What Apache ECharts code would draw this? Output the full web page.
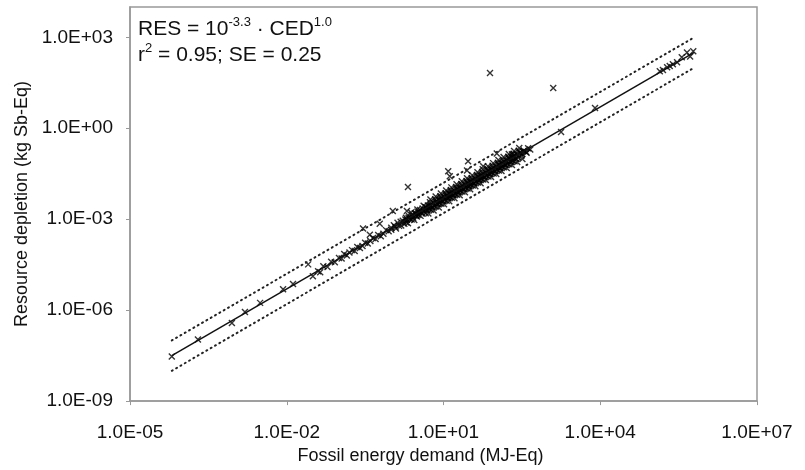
<!DOCTYPE html>
<html>
<head>
<meta charset="utf-8">
<script src="https://cdn.jsdelivr.net/npm/echarts@6/dist/echarts.min.js"></script>
<style>
  html, body { margin: 0; padding: 0; background: #fff; }
  #chart { width: 805px; height: 470px; }
</style>
</head>
<body>
<div id="chart"></div>
<script>
// all values are log10 pairs [log CED, log RES]
var lowPoints = [
  [-4.20, -7.53], [-3.70, -6.97], [-3.05, -6.42], [-2.80, -6.06], [-2.51, -5.76],
  [-2.07, -5.31], [-1.88, -5.14], [-1.50, -4.88], [-1.36, -4.75]
]
var bandPoints = [
  [-1.40, -4.72], [-1.30, -4.55], [-1.22, -4.58], [-1.15, -4.40], [-1.08, -4.42],
  [-1.00, -4.28], [-0.95, -4.30], [-0.90, -4.15], [-0.85, -4.20], [-0.80, -4.10],
  [-0.75, -4.02], [-0.70, -4.05], [-0.65, -3.92], [-0.60, -3.95], [-0.55, -3.88],
  [-0.50, -3.78], [-0.45, -3.80], [-0.40, -3.72], [-0.35, -3.62], [-0.30, -3.65],
  [-0.25, -3.52], [-0.20, -3.56], [-0.15, -3.48], [-0.10, -3.36], [-0.05, -3.40],
  [0.00, -3.28], [0.00, -3.35], [0.05, -3.20], [0.08, -3.26], [0.12, -3.12],
  [0.15, -3.22], [0.18, -3.08], [0.22, -3.05], [0.25, -3.15], [0.28, -2.95],
  [0.30, -3.02], [0.34, -2.90], [0.36, -3.00], [0.40, -2.85], [0.42, -2.95],
  [0.45, -2.80], [0.48, -2.88], [0.50, -2.75], [0.52, -2.86], [0.55, -2.70],
  [0.58, -2.78], [0.60, -2.65], [0.62, -2.74], [0.65, -2.60], [0.68, -2.70],
  [0.70, -2.55], [0.72, -2.64], [0.75, -2.52], [0.78, -2.60], [0.80, -2.45],
  [0.82, -2.56], [0.85, -2.42], [0.88, -2.50], [0.90, -2.35], [0.92, -2.46],
  [0.95, -2.30], [0.98, -2.40], [1.00, -2.25], [1.02, -2.36], [1.05, -2.22],
  [1.08, -2.30], [1.10, -2.14], [1.12, -2.26], [1.15, -2.10], [1.18, -2.20],
  [1.20, -2.05], [1.22, -2.16], [1.25, -2.00], [1.28, -2.12], [1.30, -1.96],
  [1.32, -2.06], [1.35, -1.90], [1.38, -2.00], [1.40, -1.85], [1.42, -1.96],
  [1.45, -1.80], [1.48, -1.92], [1.50, -1.76], [1.52, -1.86], [1.55, -1.70],
  [1.58, -1.82], [1.60, -1.66], [1.62, -1.76], [1.65, -1.60], [1.68, -1.72],
  [1.70, -1.56], [1.72, -1.66], [1.75, -1.50], [1.78, -1.62], [1.80, -1.46],
  [1.82, -1.56], [1.85, -1.40], [1.88, -1.52], [1.90, -1.36], [1.92, -1.46],
  [1.95, -1.30], [1.98, -1.42], [2.00, -1.26], [2.02, -1.36], [2.05, -1.20],
  [2.08, -1.32], [2.10, -1.16], [2.12, -1.26], [2.15, -1.10], [2.18, -1.20],
  [2.20, -1.06], [2.22, -1.16], [2.25, -1.00], [2.28, -1.10], [2.30, -0.96],
  [2.32, -1.06], [2.35, -0.90], [2.38, -1.00], [2.40, -0.86], [2.43, -0.95],
  [2.46, -0.80], [2.50, -0.86], [2.54, -0.74], [2.58, -0.78], [2.62, -0.66],
  [2.66, -0.70],
  // lower edge of the dense band
  [0.32, -3.13], [0.44, -3.03], [0.56, -2.89], [0.66, -2.80], [0.76, -2.69],
  [0.86, -2.58], [0.96, -2.49], [1.06, -2.39], [1.16, -2.29], [1.26, -2.19],
  [1.36, -2.09], [1.46, -1.99], [1.56, -1.89], [1.66, -1.79], [1.76, -1.69],
  [1.86, -1.59], [1.96, -1.49], [2.06, -1.39], [2.16, -1.29], [2.26, -1.19],
  [2.36, -1.09],
  [0.71, -2.81], [0.81, -2.71], [0.91, -2.61], [1.01, -2.51], [1.11, -2.41],
  [1.21, -2.31], [1.31, -2.21], [1.41, -2.11], [1.51, -2.01], [1.61, -1.91],
  [1.71, -1.81], [1.81, -1.71], [1.91, -1.61], [2.01, -1.51], [2.11, -1.41],
  [2.21, -1.31], [2.31, -1.21], [2.41, -1.11], [2.51, -1.01],
  // upper edge of the dense band
  [0.38, -2.78], [0.50, -2.68], [0.62, -2.56], [0.74, -2.44], [0.84, -2.34],
  [0.94, -2.24], [1.04, -2.14], [1.14, -2.04], [1.24, -1.94], [1.34, -1.84],
  [1.44, -1.74], [1.54, -1.64], [1.64, -1.54], [1.74, -1.44], [1.84, -1.34],
  [1.94, -1.24], [2.04, -1.14], [2.14, -1.04], [2.24, -0.94], [2.34, -0.84],
  [2.44, -0.74],
  [0.75, -2.35], [0.85, -2.25], [0.95, -2.15], [1.05, -2.05], [1.15, -1.95],
  [1.25, -1.85], [1.35, -1.75], [1.45, -1.65], [1.55, -1.55], [1.65, -1.45],
  [1.75, -1.35], [1.85, -1.25], [1.95, -1.15], [2.05, -1.05], [2.15, -0.95],
  [2.25, -0.85], [2.35, -0.75], [2.45, -0.65],
  // middle of the dense band
  [0.27, -3.01], [0.33, -2.95], [0.47, -2.81], [0.53, -2.75], [0.67, -2.61],
  [0.73, -2.55], [0.87, -2.41], [0.93, -2.35], [1.07, -2.21], [1.13, -2.15],
  [1.27, -2.01], [1.33, -1.95], [1.47, -1.81], [1.53, -1.75], [1.67, -1.61],
  [1.73, -1.55], [1.87, -1.41], [1.93, -1.35], [2.07, -1.21], [2.13, -1.15],
  [2.27, -1.01], [2.33, -0.95], [2.47, -0.81], [2.53, -0.75],
  [0.09, -3.31], [0.19, -3.21], [0.29, -3.11], [0.39, -3.01], [0.49, -2.91],
  [0.59, -2.81], [0.69, -2.71], [0.79, -2.61], [0.89, -2.51], [0.99, -2.41],
  [1.09, -2.31], [1.19, -2.21], [1.29, -2.11], [1.39, -2.01], [1.49, -1.91],
  [1.59, -1.81], [1.69, -1.71], [1.79, -1.61], [1.89, -1.51], [1.99, -1.41],
  [2.09, -1.31], [2.19, -1.21], [2.29, -1.11], [2.39, -1.01], [2.49, -0.91],
  [2.59, -0.81]
]
var upperPoints = [
  [-1.59, -4.49], [-0.54, -3.31], [-0.41, -3.51], [-0.22, -3.15], [0.03, -2.73],
  [0.30, -2.73], [0.32, -1.94], [1.09, -1.42], [1.12, -1.58], [1.47, -1.09],
  [1.45, -1.39], [1.76, -1.25], [2.02, -0.83], [2.31, -0.86], [1.89, 1.82],
  [3.10, 1.33]
]
var highPoints = [
  [3.25, -0.12], [3.90, 0.67], [5.14, 1.88], [5.20, 1.92], [5.28, 2.01],
  [5.33, 2.05], [5.39, 2.11], [5.47, 2.18], [5.56, 2.34], [5.66, 2.50],
  [5.72, 2.37], [5.78, 2.54]
]
// regression RES = 10^-3.3 * CED^1.0 and the dotted band around it
var fitLine = [[-4.2, -7.5], [5.8, 2.5]]
var fitUpper = [[-4.2, -7.0], [5.8, 3.0]]
var fitLower = [[-4.2, -8.0], [5.8, 2.0]]

function toReal(list) {
  return list.map(function (p) { return [Math.pow(10, p[0]), Math.pow(10, p[1])] })
}

function expLabel(v) {
  var e = Math.round(Math.log10(v))
  var s = String(Math.abs(e))
  if (s.length < 2) s = '0' + s
  return '1.0E' + (e < 0 ? '-' : '+') + s
}

var allPoints = toReal(lowPoints.concat(bandPoints, upperPoints, highPoints))
var fontName = 'Liberation Sans, Arial, sans-serif'

var chart = echarts.init(document.getElementById('chart'))
chart.setOption({
  animation: false,
  backgroundColor: '#fff',
  grid: {
    left: 130, top: 7, right: 48, bottom: 65,
    show: true, borderColor: '#999', borderWidth: 1.5
  },
  xAxis: {
    type: 'log', logBase: 10, min: 1e-5, max: 1e7, interval: 3,
    name: 'Fossil energy demand (MJ-Eq)',
    nameLocation: 'middle', nameGap: 45,
    nameTextStyle: { fontFamily: fontName, fontSize: 18, color: '#111', padding: [0, 46, 0, 0] },
    axisLine: { lineStyle: { color: '#999', width: 1.5 } },
    axisTick: { show: true, length: 4, lineStyle: { color: '#999' } },
    minorTick: { show: false },
    splitLine: { show: false },
    axisLabel: { fontFamily: fontName, fontSize: 19, color: '#111', margin: 22, formatter: expLabel }
  },
  yAxis: {
    type: 'log', logBase: 10, min: 1e-9, max: 1e4, interval: 3,
    name: 'Resource depletion (kg Sb-Eq)',
    nameLocation: 'middle', nameGap: 94,
    nameTextStyle: { fontFamily: fontName, fontSize: 18, color: '#111' },
    axisLine: { lineStyle: { color: '#999', width: 1.5 } },
    axisTick: { show: true, length: 4, lineStyle: { color: '#999' } },
    splitLine: { show: false },
    axisLabel: { fontFamily: fontName, fontSize: 19, color: '#111', margin: 17, showMaxLabel: false, formatter: expLabel }
  },
  graphic: [{
    type: 'text', left: 138, top: 16,
    style: {
      text: '{n|RES = 10}{s|-3.3}{n| · CED}{s|1.0}\n{n|r}{s|2}{n| = 0.95; SE = 0.25}',
      fontFamily: fontName,
      fill: '#111',
      rich: {
        n: { fontSize: 21, lineHeight: 26, fontFamily: fontName, fill: '#111' },
        s: { fontSize: 13, lineHeight: 26, verticalAlign: 'top', fontFamily: fontName, fill: '#111' }
      }
    }
  }],
  series: [
    {
      type: 'scatter',
      data: allPoints,
      symbol: 'path://M0,0L10,10M10,0L0,10',
      symbolSize: 6,
      itemStyle: { color: 'rgba(0,0,0,0)', borderColor: '#000', borderWidth: 1.4 }
    },
    {
      type: 'line', data: toReal(fitLine), showSymbol: false,
      lineStyle: { color: '#111', width: 1.5 }
    },
    {
      type: 'line', data: toReal(fitUpper), showSymbol: false,
      lineStyle: { color: '#222', width: 2, type: [1, 4], cap: 'round' }
    },
    {
      type: 'line', data: toReal(fitLower), showSymbol: false,
      lineStyle: { color: '#222', width: 2, type: [1, 4], cap: 'round' }
    }
  ]
})
</script>
</body>
</html>
